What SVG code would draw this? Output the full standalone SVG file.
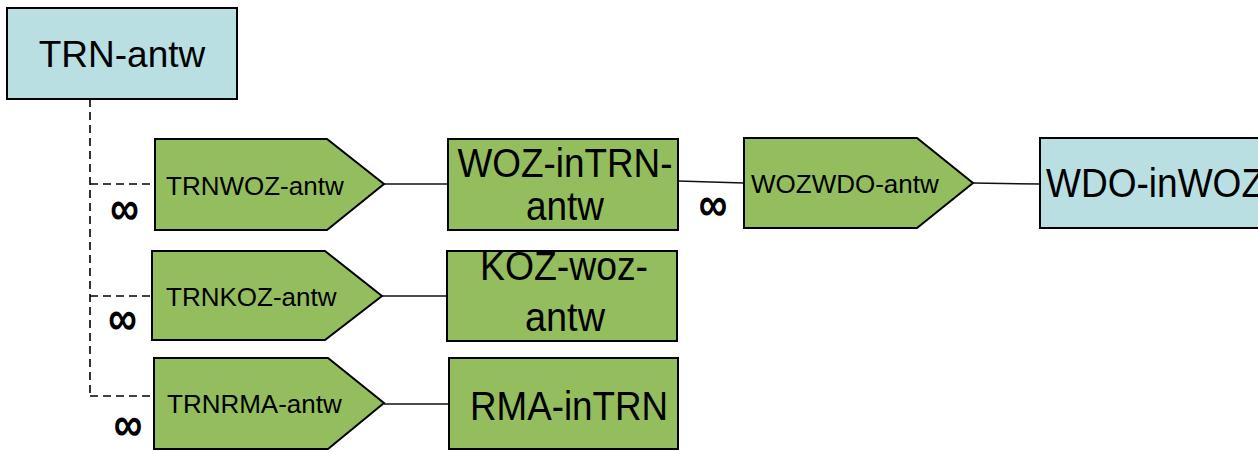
<svg xmlns="http://www.w3.org/2000/svg" width="1258" height="451" viewBox="0 0 1258 451">
<style>
.blue{fill:#b9dfe3;stroke:#000;stroke-width:2}
.green{fill:#94bd5e;stroke:#000;stroke-width:2}
.big{font-family:"Liberation Sans",Arial,sans-serif;font-size:40px;fill:#000;text-anchor:middle}
.small{font-family:"Liberation Sans",Arial,sans-serif;font-size:26px;fill:#000}
.inf{font-family:"Liberation Sans",Arial,sans-serif;font-size:40px;font-weight:bold;fill:#000;text-anchor:middle}
.solid{fill:none;stroke:#111;stroke-width:1.5}
.dash{fill:none;stroke:#000;stroke-width:1.6;stroke-dasharray:8,5}
</style>
<rect width="1258" height="451" fill="#fff"/>
<g id="connectors">
<path class="dash" d="M90,99 V396"/>
<path class="dash" d="M90,184 H155"/>
<path class="dash" d="M90,296 H152"/>
<path class="dash" d="M90,396 H154"/>
<path class="solid" d="M384,184 H448"/>
<path class="solid" d="M678,181 L744,183"/>
<path class="solid" d="M973,183 L1040,184"/>
<path class="solid" d="M382,296 L447,296"/>
<path class="solid" d="M384,404 L449,404"/>
<text class="inf" transform="translate(124.5,209) scale(1,1.25)" x="0" y="12.6">∞</text>
<text class="inf" transform="translate(122.5,319) scale(1,1.25)" x="0" y="12.6">∞</text>
<text class="inf" transform="translate(128,425.5) scale(1,1.25)" x="0" y="12.6">∞</text>
<text class="inf" transform="translate(713,205.5) scale(1,1.25)" x="0" y="12.6">∞</text>
</g>
<g id="TRN-antw">
<rect class="blue" x="7" y="8" width="230" height="91"/>
<text class="big" x="122" y="67" style="font-size:37px">TRN-antw</text>
</g>
<g id="TRNWOZ-antw">
<path class="green" d="M155,139 H327 L384,184 L327,230 H155 Z"/>
<text class="small" x="166" y="195">TRNWOZ-antw</text>
</g>
<g id="WOZ-inTRN-antw">
<rect class="green" x="448" y="139" width="230" height="91"/>
<text class="big" x="565" y="177" textLength="215" lengthAdjust="spacingAndGlyphs">WOZ-inTRN-</text>
<text class="big" x="565" y="220" textLength="78" lengthAdjust="spacingAndGlyphs">antw</text>
</g>
<g id="WOZWDO-antw">
<path class="green" d="M744,138 H917 L973,183 L917,228 H744 Z"/>
<text class="small" x="751" y="193">WOZWDO-antw</text>
</g>
<g id="WDO-inWOZ">
<rect class="blue" x="1040" y="138" width="230" height="90"/>
<text class="big" x="1046" y="197" style="text-anchor:start" textLength="218" lengthAdjust="spacingAndGlyphs">WDO-inWOZ</text>
</g>
<g id="TRNKOZ-antw">
<path class="green" d="M152,251 H325 L382,296 L325,340 H152 Z"/>
<text class="small" x="166" y="306">TRNKOZ-antw</text>
</g>
<g id="KOZ-woz-antw">
<rect class="green" x="447" y="251" width="230" height="90"/>
<text class="big" x="564" y="280" textLength="168" lengthAdjust="spacingAndGlyphs">KOZ-woz-</text>
<text class="big" x="565" y="331" textLength="80" lengthAdjust="spacingAndGlyphs">antw</text>
</g>
<g id="TRNRMA-antw">
<path class="green" d="M154,358 H328 L384,403 L328,449 H154 Z"/>
<text class="small" x="167" y="413">TRNRMA-antw</text>
</g>
<g id="RMA-inTRN">
<rect class="green" x="449" y="358" width="229" height="91"/>
<text class="big" x="569" y="420" textLength="198" lengthAdjust="spacingAndGlyphs">RMA-inTRN</text>
</g>
</svg>
